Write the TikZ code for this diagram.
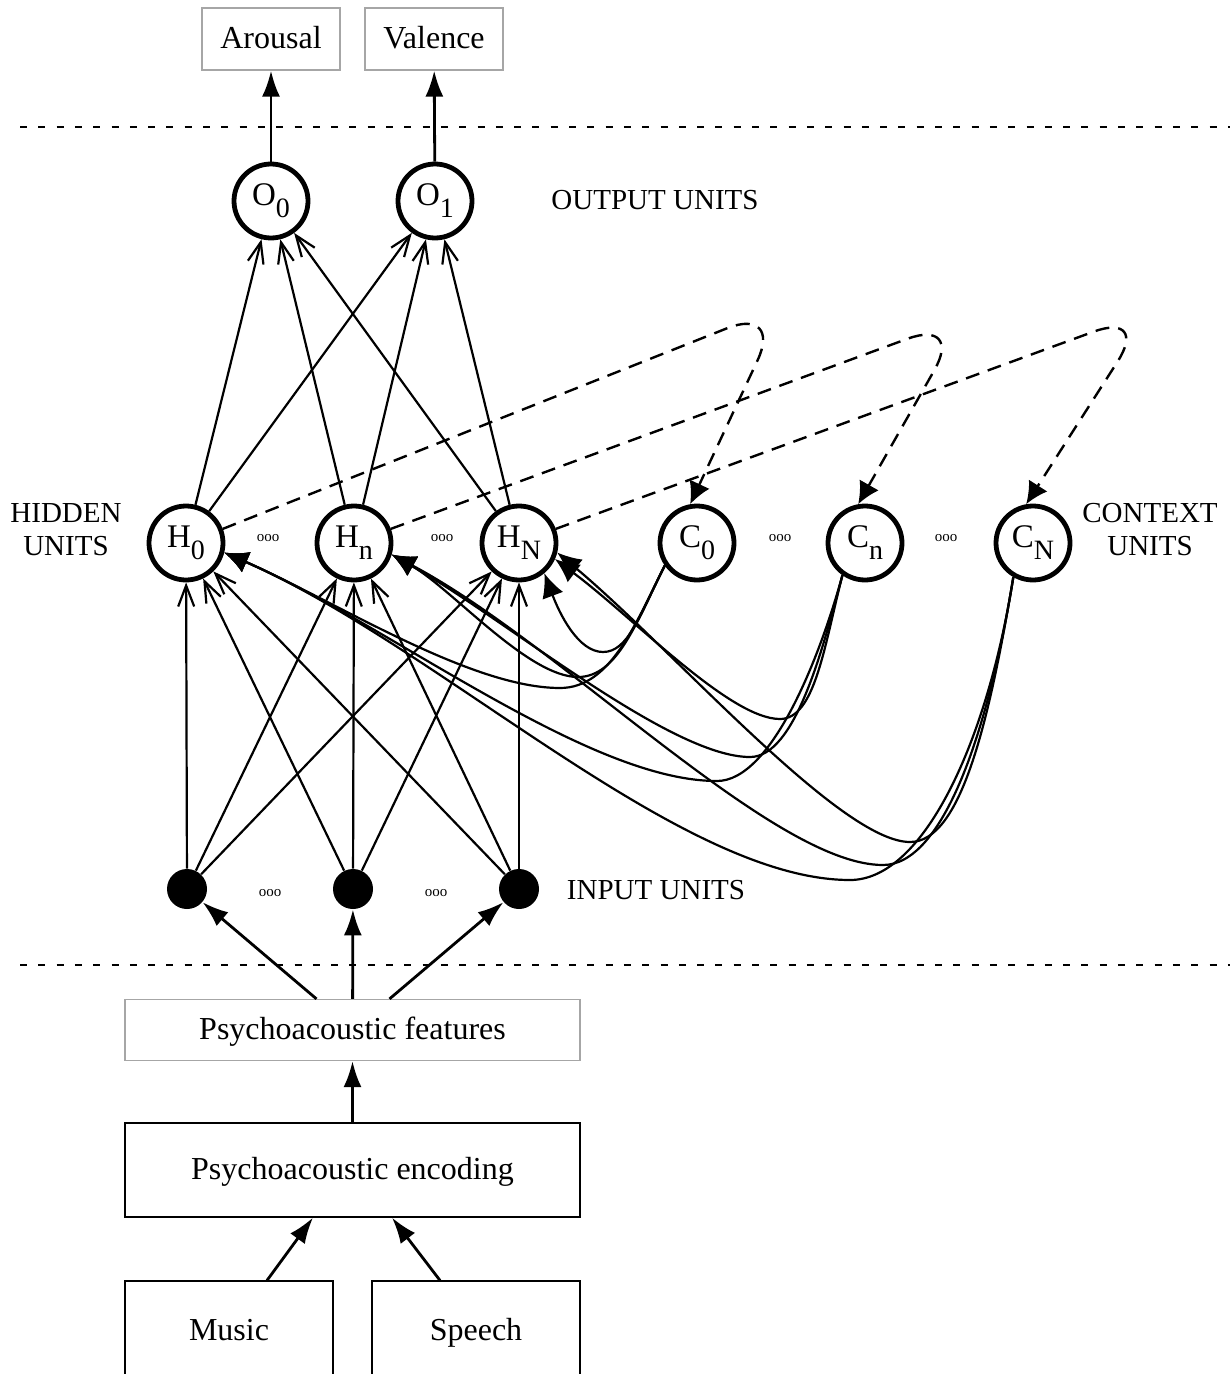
\documentclass[tikz,border=0pt]{standalone}
\usepackage{fontspec}
\setmainfont{Liberation Serif}
\usetikzlibrary{arrows.meta}
\newcommand\usub[2]{#1\raisebox{-6pt}{\fontsize{14}{14}\selectfont #2}}
\begin{document}
\begin{tikzpicture}[x=0.5pt,y=-0.5pt,
  unit/.style={circle, draw, line width=2.4pt, minimum size=37pt, inner sep=0pt, font=\fontsize{16.5}{16.5}\selectfont},
  inp/.style={circle, fill, minimum size=20pt, inner sep=0pt},
  lbl/.style={font=\fontsize{14.5}{16.5}\selectfont, align=center},
  gbox/.style={draw=black!35, line width=0.6pt, inner sep=0pt, text height=11.5pt, text depth=2pt, font=\fontsize{16}{16}\selectfont},
  bbox/.style={draw, line width=0.6pt, inner sep=0pt, text height=11.5pt, text depth=2pt, font=\fontsize{16}{16}\selectfont},
  dots/.style={font=\fontsize{7.5}{8}\selectfont, inner sep=0pt},
  net/.style={line width=1.1pt, -{Straight Barb[length=10.5pt,width=8pt]}},
  ctx/.style={line width=1.1pt, -{Latex[length=12pt,width=11pt]}},
  rec/.style={line width=1.2pt, dash pattern=on 7pt off 4.5pt, rounded corners=30pt, -{Latex[length=11pt,width=11pt]}},
  big/.style={line width=1.4pt, -{Latex[length=13pt,width=9pt]}},
  sep/.style={line width=1.4pt, dash pattern=on 3.5pt off 5.65pt}
]
\useasboundingbox (0,0) rectangle (1230,1374);

% separators
\draw[sep] (20,127) -- (1230,127);
\draw[sep] (20,965) -- (1230,965);

% output boxes
\node[gbox, minimum width=69pt, minimum height=31pt] (arousal) at (271,39) {Arousal};
\node[gbox, minimum width=69pt, minimum height=31pt] (valence) at (434,39) {Valence};

% output units
\node[unit] (o0) at (271,201) {\usub{O}{0}};
\node[unit] (o1) at (435,201) {\usub{O}{1}};
\node[lbl] (outlbl) at (655,200) {OUTPUT UNITS};

% hidden and context units
\node[unit] (h0) at (186,543) {\usub{H}{0}};
\node[unit] (hn) at (354,543) {\usub{H}{n}};
\node[unit] (hN) at (519,543) {\usub{H}{N}};
\node[unit] (c0) at (697,543) {\usub{C}{0}};
\node[unit] (cn) at (865,543) {\usub{C}{n}};
\node[unit] (cN) at (1033,543) {\usub{C}{N}};
\node[lbl] (hidlbl) at (66,530) {HIDDEN\\UNITS};
\node[lbl] (ctxlbl) at (1150,530) {CONTEXT\\UNITS};
\node[dots] (d1) at (268,538) {ooo};
\node[dots] (d2) at (442,538) {ooo};
\node[dots] (d3) at (780,538) {ooo};
\node[dots] (d4) at (946,538) {ooo};

% input units
\node[inp] (i0) at (187,889) {};
\node[inp] (in) at (353,889) {};
\node[inp] (iN) at (519,889) {};
\node[dots] (d5) at (270,893) {ooo};
\node[dots] (d6) at (436,893) {ooo};
\node[lbl] (inlbl) at (656,890) {INPUT UNITS};

% lower boxes
\node[gbox, minimum width=227.5pt, minimum height=30.5pt] (feat) at (352.5,1030) {Psychoacoustic features};
\node[bbox, minimum width=227.5pt, minimum height=47pt] (enc) at (352.5,1170) {Psychoacoustic encoding};
\node[bbox, minimum width=104pt, minimum height=50pt] (music) at (229,1331) {Music};
\node[bbox, minimum width=104pt, minimum height=50pt] (speech) at (476,1331) {Speech};

% big arrows
\draw[big] (o0) -- (arousal);
\draw[big] (o1) -- (valence);
\draw[big] ([xshift=-18pt]feat.north) -- (i0);
\draw[big] (feat) -- (in);
\draw[big] ([xshift=18.5pt]feat.north) -- (iN);
\draw[big] (enc) -- (feat);
\draw[big] ([xshift=19pt]music.north) -- ([xshift=-19.75pt]enc.south);
\draw[big] ([xshift=-18pt]speech.north) -- ([xshift=19.75pt]enc.south);

% input -> hidden, hidden -> output
\foreach \a in {i0,in,iN}{
  \foreach \b in {h0,hn,hN}{
    \draw[net] (\a) -- (\b);
  }
}
\foreach \a in {h0,hn,hN}{
  \foreach \b in {o0,o1}{
    \draw[net] (\a) -- (\b);
  }
}

% recurrent copies
\draw[rec] (h0.21) -- (783,306) -- (c0.100);
\draw[rec] (hn.21) -- (964,318) -- (cn.100);
\draw[rec] (hN.21) -- (1150,311) -- (cN.100);

% context -> hidden
\draw[ctx] (c0.215) .. controls +(-25,50) and +(25,0) .. (603,652) .. controls +(-25,0) and +(15,40) .. (hN.-50);
\draw[ctx] (c0.215) .. controls +(-28,55) and +(40,0) .. (578,677) .. controls +(-50,0) and +(60,34) .. (hn.-17);
\draw[ctx] (c0.215) .. controls +(-30,60) and +(50,0) .. (560,688) .. controls +(-90,0) and +(110,48) .. (h0.-14);

\draw[ctx] (cn.235) .. controls +(-18,70) and +(35,0) .. (780,719) .. controls +(-50,0) and +(80,60) .. (hN.-24);
\draw[ctx] (cn.235) .. controls +(-20,75) and +(45,0) .. (750,757) .. controls +(-80,0) and +(113,64) .. (hn.-17);
\draw[ctx] (cn.235) .. controls +(-22,80) and +(55,0) .. (717,781) .. controls +(-130,0) and +(165,72) .. (h0.-14);

\draw[ctx] (cN.240) .. controls +(-25,150) and +(50,0) .. (910,842) .. controls +(-70,0) and +(115,96) .. (hN.-14);
\draw[ctx] (cN.240) .. controls +(-25,155) and +(60,0) .. (883,865) .. controls +(-110,0) and +(170,90) .. (hn.-17);
\draw[ctx] (cN.240) .. controls +(-25,160) and +(75,0) .. (850,880) .. controls +(-170,0) and +(215,94) .. (h0.-14);
\end{tikzpicture}
\end{document}
